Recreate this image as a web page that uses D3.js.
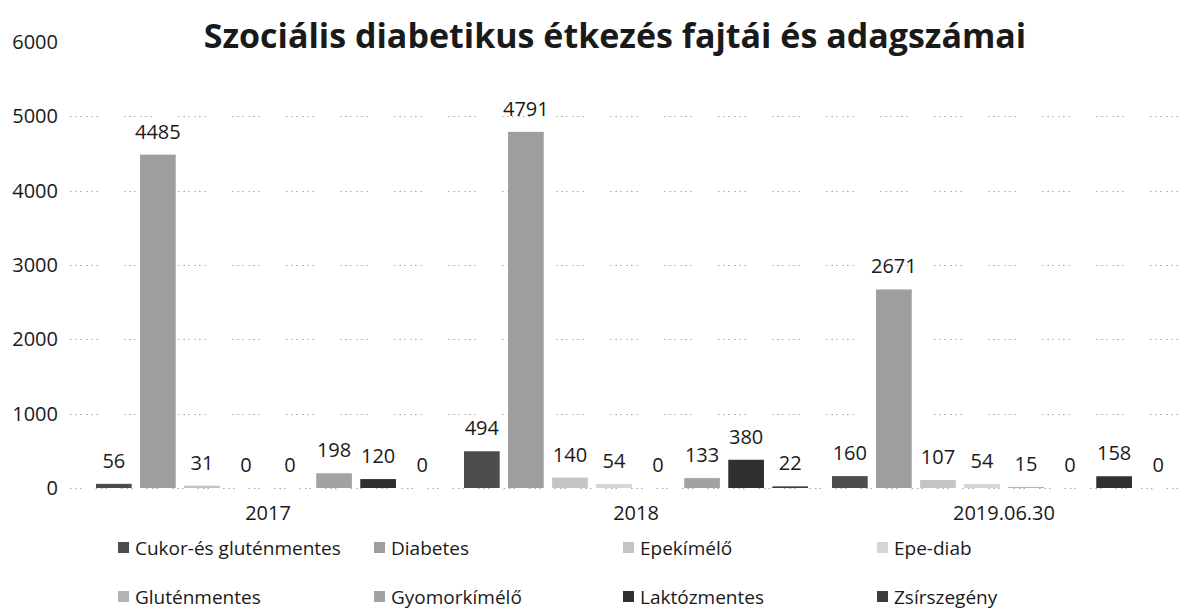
<!DOCTYPE html>
<html>
<head>
<meta charset="utf-8">
<script src="https://cdn.jsdelivr.net/npm/d3@7"></script>
<style>
  html, body { margin: 0; padding: 0; background: #fff; }
  svg { display: block; }
  text { font-family: "Open Sans", "DejaVu Sans", sans-serif; fill: #1a1a1a; }
</style>
</head>
<body>
<svg id="chart" width="1186" height="610"></svg>
<script>
const title = "Szociális diabetikus étkezés fajtái és adagszámai";
const categories = ["2017", "2018", "2019.06.30"];
const seriesNames = ["Cukor-és gluténmentes", "Diabetes", "Epekímélő", "Epe-diab",
                     "Gluténmentes", "Gyomorkímélő", "Laktózmentes", "Zsírszegény"];
const values2017 = [56, 4485, 31, 0, 0, 198, 120, 0];
const values2018 = [494, 4791, 140, 54, 0, 133, 380, 22];
const values2019 = [160, 2671, 107, 54, 15, 0, 158, 0];
const yTicks = [0, 1000, 2000, 3000, 4000, 5000, 6000];
const seriesColors = ["#4d4d4d", "#9e9e9e", "#c4c4c4", "#d6d6d6",
                      "#b4b4b4", "#a2a2a2", "#303030", "#3c3c3c"];

const table = [values2017, values2018, values2019];

const svg = d3.select("#chart");

const x0 = d3.scaleBand().domain(categories).range([84, 1188]).padding(0);
const x1 = d3.scaleBand().domain(seriesNames).range([12, x0.bandwidth() - 12]).paddingInner(0.19);
const y = d3.scaleLinear().domain([0, 6000]).range([488, 42]);

// gridlines (faint dotted, scanned look)
const grid = svg.append("g");
grid.selectAll("line")
  .data(yTicks.filter(d => d > 0 && d < 6000))
  .join("line")
  .attr("x1", 70).attr("x2", 1186)
  .attr("y1", d => Math.round(y(d)) + 0.5).attr("y2", d => Math.round(y(d)) + 0.5)
  .attr("stroke", "#a8a8a8")
  .attr("stroke-width", 1)
  .attr("stroke-dasharray", "1.5 4 1.5 3 1.5 5 1.5 3 1.5 4 1.5 26");

// baseline dotted
svg.append("line")
  .attr("x1", 70).attr("x2", 1186)
  .attr("y1", y(0) + 0.5).attr("y2", y(0) + 0.5)
  .attr("stroke", "#a8a8a8")
  .attr("stroke-dasharray", "1.5 4 1.5 3 1.5 14");

// y axis labels
const yAxis = d3.axisLeft(y).tickValues(yTicks).tickFormat(d3.format("d")).tickSize(0).tickPadding(0);
const yg = svg.append("g").attr("transform", "translate(58,0)").call(yAxis);
yg.select(".domain").remove();
yg.selectAll("text")
  .style("font-family", '"Open Sans", sans-serif')
  .style("font-size", "20px")
  .attr("fill", "#1a1a1a");

// bars
const groups = svg.append("g").selectAll("g")
  .data(categories)
  .join("g")
  .attr("transform", d => `translate(${x0(d)},0)`);

groups.selectAll("rect")
  .data((c, i) => seriesNames.map((s, j) => ({ s, v: table[i][j], j })))
  .join("rect")
  .attr("x", d => x1(d.s))
  .attr("width", x1.bandwidth())
  .attr("y", d => y(d.v))
  .attr("height", d => y(0) - y(d.v))
  .attr("fill", d => seriesColors[d.j]);

groups.selectAll("text.val")
  .data((c, i) => seriesNames.map((s, j) => ({ s, v: table[i][j], j })))
  .join("text")
  .attr("class", "val")
  .attr("x", d => x1(d.s) + x1.bandwidth() / 2)
  .attr("y", d => y(d.v) - 16)
  .attr("text-anchor", "middle")
  .style("font-size", "20px")
  .text(d => d.v);

// x axis labels
const xAxis = d3.axisBottom(x0).tickSize(0).tickPadding(0);
const xg = svg.append("g").attr("transform", "translate(0,506)").call(xAxis);
xg.select(".domain").remove();
xg.selectAll("text")
  .style("font-family", '"Open Sans", sans-serif')
  .style("font-size", "20px")
  .attr("fill", "#1a1a1a");

// title
svg.append("text")
  .attr("x", 615).attr("y", 48)
  .attr("text-anchor", "middle")
  .style("font-size", "34px")
  .style("font-weight", "bold")
  .attr("fill", "#3a3a3a")
  .text(title);

// legend
const legCols = [118, 374, 623, 877];
const legRows = [548, 597];
const legend = svg.append("g").selectAll("g")
  .data(seriesNames)
  .join("g")
  .attr("transform", (d, i) => `translate(${legCols[i % 4]},${legRows[Math.floor(i / 4)]})`);
legend.append("rect")
  .attr("x", 0).attr("y", -6).attr("width", 11).attr("height", 11)
  .attr("fill", (d, i) => seriesColors[i]);
legend.append("text")
  .attr("x", 17).attr("y", 7)
  .style("font-size", "19px")
  .text(d => d);
</script>
</body>
</html>
